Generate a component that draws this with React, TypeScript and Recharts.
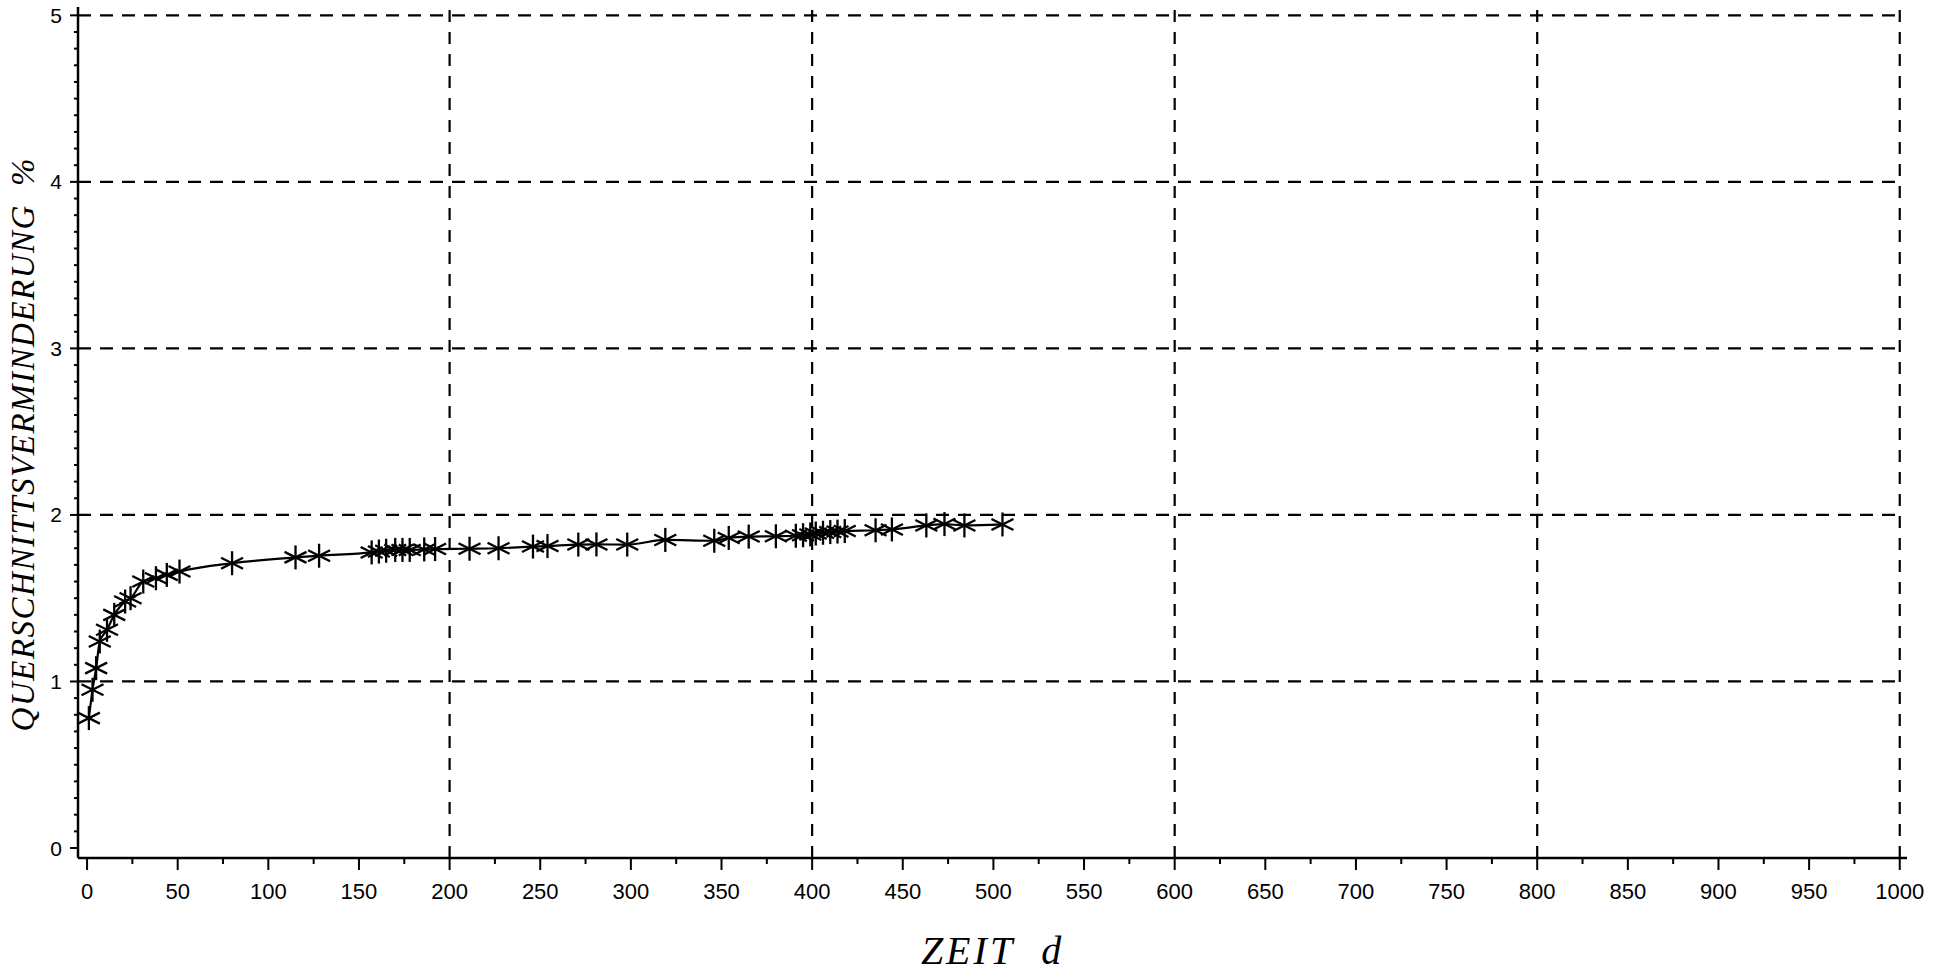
import React from 'react';
import { LineChart, Line, XAxis, YAxis, ReferenceLine } from 'recharts';

// ---- data ----
const DAYS = [1, 3, 5, 7, 11, 15, 21, 24, 31, 38, 44, 51, 80, 115, 128, 157, 161, 165, 170, 174, 178, 186, 192, 211, 227, 246, 254, 271, 281, 298, 319, 346, 354, 365, 380, 391, 395, 399, 402, 406, 410, 414, 418, 435, 444, 463, 473, 484, 505];
const VALUES = [0.78, 0.95, 1.08, 1.24, 1.31, 1.4, 1.48, 1.5, 1.6, 1.62, 1.64, 1.66, 1.71, 1.745, 1.755, 1.775, 1.78, 1.785, 1.79, 1.79, 1.79, 1.793, 1.795, 1.797, 1.8, 1.81, 1.813, 1.822, 1.823, 1.822, 1.85, 1.845, 1.862, 1.87, 1.872, 1.875, 1.878, 1.883, 1.888, 1.893, 1.897, 1.9, 1.903, 1.908, 1.913, 1.937, 1.945, 1.937, 1.943];

const X_TICK_LABELS = [0, 50, 100, 150, 200, 250, 300, 350, 400, 450, 500, 550, 600, 650, 700, 750, 800, 850, 900, 950, 1000];
const Y_TICK_LABELS = [0, 1, 2, 3, 4, 5];
const X_GRID = [200, 400, 600, 800, 1000];
const Y_GRID = [1, 2, 3, 4, 5];

const X_TITLE = 'ZEIT';
const X_UNIT = 'd';
const Y_TITLE = 'QUERSCHNITTSVERMINDERUNG';
const Y_UNIT = '%';

const data = DAYS.map((d, i) => ({ x: d, y: VALUES[i] }));

const xTicks: number[] = X_TICK_LABELS.flatMap((v, i) =>
  i < X_TICK_LABELS.length - 1 ? [v, (v + X_TICK_LABELS[i + 1]) / 2] : [v]
);
const yTicks: number[] = Y_TICK_LABELS.flatMap((v, i) =>
  i < Y_TICK_LABELS.length - 1
    ? Array.from({ length: 10 }, (_, k) => Math.round(v * 10 + k) / 10)
    : [v]
);

const isMajorX = (v: number) => X_TICK_LABELS.includes(v);
const isMajorY = (v: number) => Math.abs(v - Math.round(v)) < 1e-6;

const TICK_FONT = "'Liberation Sans', Arial, 'DejaVu Sans', sans-serif";
const TITLE_FONT = "'Liberation Serif', 'DejaVu Serif', serif";

const XTick = (props: any) => {
  const { x, y, payload } = props;
  const v = payload.value;
  const axisY = y - 12;
  const major = isMajorX(v);
  return (
    <g>
      <line x1={x} y1={axisY} x2={x} y2={major ? axisY + 12 : axisY + 6} stroke="#000" strokeWidth={2} />
      {major && (
        <text x={x} y={axisY + 41} textAnchor="middle" fontFamily={TICK_FONT} fontSize={22} fill="#000">
          {v}
        </text>
      )}
    </g>
  );
};

const YTick = (props: any) => {
  const { x, y, payload } = props;
  const v = payload.value;
  const axisX = x + 8;
  const major = isMajorY(v);
  return (
    <g>
      <line x1={major ? axisX - 8 : axisX - 4} y1={y} x2={axisX} y2={y} stroke="#000" strokeWidth={2} />
      {major && (
        <text x={axisX - 16} y={y} dy="0.36em" textAnchor="end" fontFamily={TICK_FONT} fontSize={21} fill="#000">
          {Math.round(v)}
        </text>
      )}
    </g>
  );
};

const StarDot = (props: any) => {
  const { cx, cy, index } = props;
  if (cx == null || cy == null) return <g key={`s${index}`} />;
  return (
    <g key={`s${index}`} stroke="#000" strokeWidth={2.3}>
      <line x1={cx} y1={cy - 12} x2={cx} y2={cy + 12} />
      <line x1={cx - 11} y1={cy - 5.5} x2={cx + 11} y2={cy + 5.5} />
      <line x1={cx - 11} y1={cy + 5.5} x2={cx + 11} y2={cy - 5.5} />
    </g>
  );
};

export default function App() {
  return (
    <div style={{ position: 'absolute', left: 0, top: 0, width: 1950, height: 977, background: '#fff' }}>
      <LineChart
        width={1950}
        height={977}
        data={data}
        margin={{ top: 7, right: 43, bottom: 79, left: 18 }}
      >
        <XAxis
          dataKey="x"
          type="number"
          domain={[-5, 1004]}
          allowDataOverflow
          ticks={xTicks}
          interval={0}
          height={40}
          tickSize={12}
          tickMargin={0}
          tickLine={false}
          tick={<XTick />}
          axisLine={{ stroke: '#000', strokeWidth: 2.5 }}
        />
        <YAxis
          dataKey="y"
          type="number"
          domain={[-0.06, 5.05]}
          allowDataOverflow
          ticks={yTicks}
          interval={0}
          width={60}
          tickSize={8}
          tickMargin={0}
          tickLine={false}
          tick={<YTick />}
          axisLine={{ stroke: '#000', strokeWidth: 2.5 }}
        />
        {Y_GRID.map((v) => (
          <ReferenceLine
            key={`h${v}`}
            segment={[{ x: -5, y: v }, { x: 1000, y: v }]}
            stroke="#000"
            strokeWidth={2.2}
            strokeDasharray="13 9"
            ifOverflow="extendDomain"
          />
        ))}
        {X_GRID.map((v) => (
          <ReferenceLine key={`v${v}`} x={v} stroke="#000" strokeWidth={2.2} strokeDasharray="12 10" />
        ))}
        <Line
          type="monotone"
          dataKey="y"
          stroke="#000"
          strokeWidth={2.2}
          dot={StarDot}
          activeDot={false}
          isAnimationActive={false}
        />
      </LineChart>
      <svg
        width={1950}
        height={977}
        style={{ position: 'absolute', left: 0, top: 0, pointerEvents: 'none' }}
      >
        <text
          x={991}
          y={964}
          textAnchor="middle"
          fontFamily={TITLE_FONT}
          fontStyle="italic"
          fontSize={40}
          fill="#000"
        >
          <tspan letterSpacing={3}>{X_TITLE}</tspan>
          <tspan dx={26}>{X_UNIT}</tspan>
        </text>
        <text
          transform="translate(34, 445) rotate(-90)"
          textAnchor="middle"
          fontFamily={TITLE_FONT}
          fontStyle="italic"
          fontSize={33}
          fill="#000"
        >
          <tspan letterSpacing={1.5}>{Y_TITLE}</tspan>
          <tspan dx={18}>{Y_UNIT}</tspan>
        </text>
      </svg>
    </div>
  );
}
